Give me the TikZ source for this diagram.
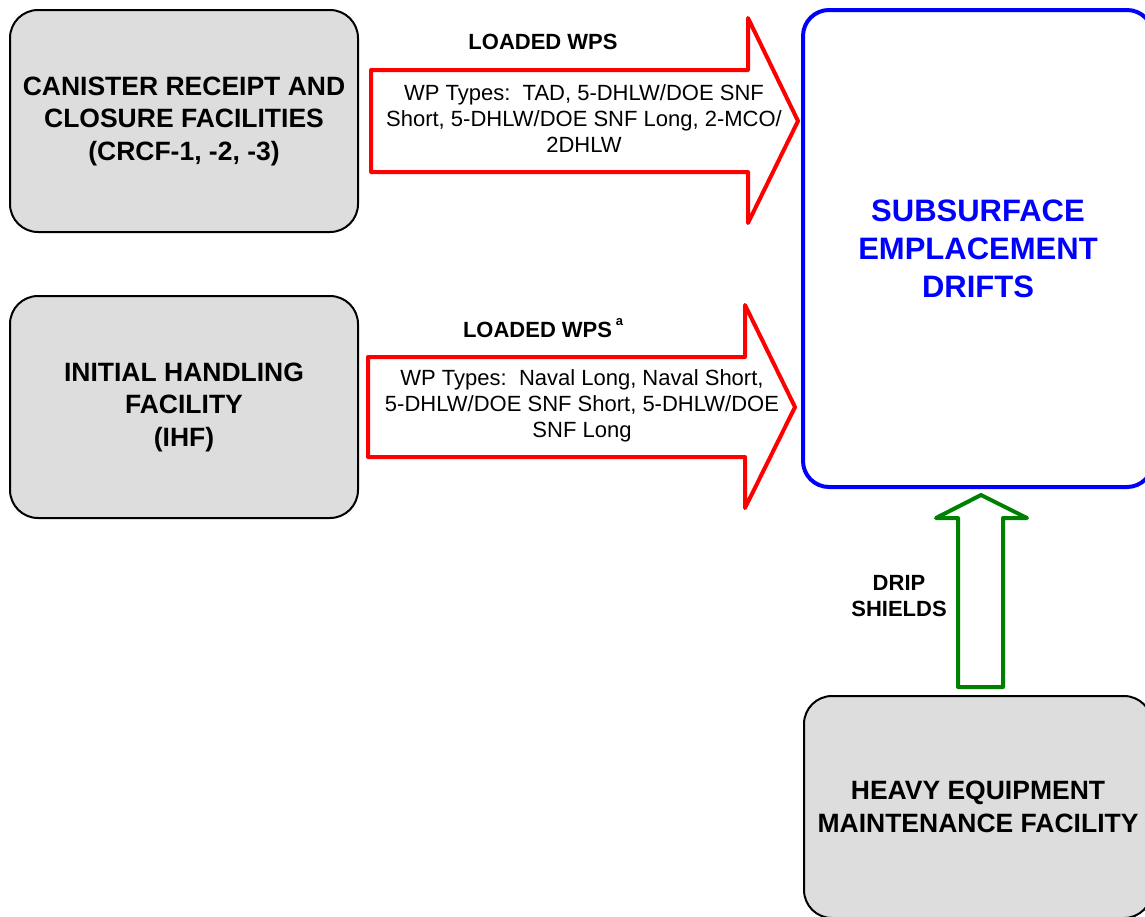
\documentclass[tikz,border=0pt]{standalone}
\usepackage{fontspec}
\setmainfont{Liberation Sans}
\definecolor{boxgray}{HTML}{DDDDDD}
\definecolor{flowred}{HTML}{FF0000}
\definecolor{driftblue}{HTML}{0000FF}
\definecolor{shieldgreen}{HTML}{008000}
\begin{document}
\begin{tikzpicture}[x=1pt,y=-1pt,
  facility/.style={draw=black, line width=2pt, fill=boxgray, rounded corners=28pt,
    minimum width=348pt, minimum height=222pt, inner sep=0pt, align=center,
    font=\fontsize{26.5}{32.5}\selectfont\bfseries},
  drifts/.style={draw=driftblue, line width=4pt, rounded corners=26pt,
    minimum width=350pt, minimum height=477pt, inner sep=0pt, align=center,
    text=driftblue, font=\fontsize{31}{38}\selectfont\bfseries},
  flowarrow/.style={draw=flowred, line width=4pt, line join=round, fill=white},
  shieldarrow/.style={draw=shieldgreen, line width=4pt, line join=round, fill=white},
  flowtitle/.style={inner sep=0pt, align=center, font=\fontsize{22}{26}\selectfont\bfseries},
  flowtext/.style={inner sep=0pt, align=center, font=\fontsize{22}{26}\selectfont}]
\useasboundingbox (0,0) rectangle (1145,916);
\clip (0,0) rectangle (1145,916);

% facilities
\node[facility] (crcf) at (184,121) {CANISTER RECEIPT AND\\CLOSURE FACILITIES\\(CRCF-1, -2, -3)};
\node[facility] (ihf) at (184,407) {INITIAL HANDLING\\FACILITY\\(IHF)};
\node[drifts] (sed) at (978,248.5) {SUBSURFACE\\EMPLACEMENT\\DRIFTS};
\node[facility] (hemf) at (978,807) {HEAVY EQUIPMENT\\MAINTENANCE FACILITY};

% block arrows toward the emplacement drifts
\draw[flowarrow] (371,70) -- (748,70) -- (748,18) -- (798,121) -- (748,223)
  -- (748,172) -- (371,172) -- cycle;
\draw[flowarrow] (368,357) -- (745,357) -- (745,305) -- (795,407) -- (745,508)
  -- (745,457) -- (368,457) -- cycle;
\draw[shieldarrow] (958,687) -- (958,518) -- (936,518) -- (981,495) -- (1027,518)
  -- (1003,518) -- (1003,687) -- cycle;

% arrow labels
\node[flowtitle] (wps1) at (543,42) {LOADED WPS};
\node[flowtext] (types1) at (584,119) {WP Types:\ \ TAD, 5-DHLW/DOE SNF\\Short, 5-DHLW/DOE SNF Long, 2-MCO/\\2DHLW};
\node[flowtitle] (wps2) at (543,328) {LOADED WPS\,\raisebox{0.55em}{\fontsize{13}{13}\selectfont a}};
\node[flowtext] (types2) at (582,406) {WP Types:\ \ Naval Long, Naval Short,\\5-DHLW/DOE SNF Short, 5-DHLW/DOE\\SNF Long};
\node[flowtitle] (drip) at (899,596) {DRIP\\SHIELDS};
\end{tikzpicture}
\end{document}
